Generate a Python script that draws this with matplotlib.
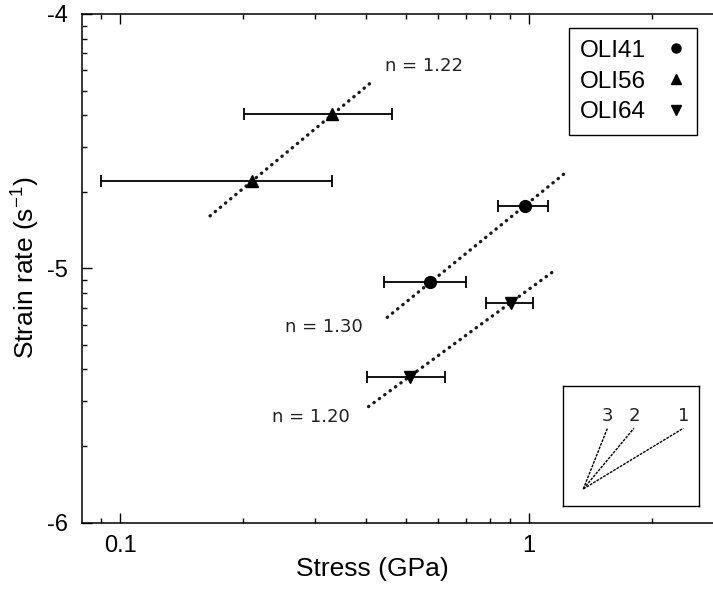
import numpy as np
import matplotlib
matplotlib.use("Agg")
import matplotlib.pyplot as plt
from matplotlib.ticker import LogLocator, FuncFormatter, NullFormatter
from matplotlib.lines import Line2D

# data (stress in GPa, log10 strain rate)
samples = ["OLI41", "OLI56", "OLI64"]
markers = ["o", "^", "v"]

stress41 = [0.573, 0.978]
lograte41 = [-5.055, -4.754]
lo41 = [0.442, 0.837]
hi41 = [0.702, 1.115]

stress56 = [0.210, 0.330]
lograte56 = [-4.656, -4.393]
lo56 = [0.090, 0.201]
hi56 = [0.330, 0.462]

stress64 = [0.512, 0.902]
lograte64 = [-5.429, -5.138]
lo64 = [0.401, 0.785]
hi64 = [0.621, 1.021]

# fitted lines (end points)
fit41_x = [0.450, 1.236]
fit41_y = [-5.193, -4.620]
fit56_x = [0.166, 0.416]
fit56_y = [-4.794, -4.262]
fit64_x = [0.405, 1.158]
fit64_y = [-5.544, -5.007]
n_labels = ["n = 1.30", "n = 1.22", "n = 1.20"]

# slope guide in the little box (box coordinates)
guide_labels = ["3", "2", "1"]
guide_x_end = [0.328, 0.523, 0.885]
guide_y_end = [0.647, 0.647, 0.647]
guide_origin = (0.151, 0.140)

plt.rcParams['font.family'] = ['Liberation Sans', 'DejaVu Sans']

fig = plt.figure(figsize=(7.13, 5.92), dpi=100)
ax = fig.add_axes([81.7 / 713, 69.5 / 592, 632.3 / 713, 508.5 / 592])

groups = [(stress41, lograte41, lo41, hi41), (stress56, lograte56, lo56, hi56),
          (stress64, lograte64, lo64, hi64)]
for (x, ly, lo, hi), m in zip(groups, markers):
    x = np.array(x)
    y = 10 ** np.array(ly)
    xerr = [x - np.array(lo), np.array(hi) - x]
    ax.errorbar(x, y, xerr=xerr, fmt=m, color='black', ms=8.5 if m == 'o' else 8,
                elinewidth=1.3, capsize=4.5, capthick=1.3, zorder=3)

for fx, fy in [(fit41_x, fit41_y), (fit56_x, fit56_y), (fit64_x, fit64_y)]:
    ax.plot(fx, 10 ** np.array(fy), color='#1a1a1a', lw=2.4,
            linestyle=(0, (0.1, 1.9)), dash_capstyle='round', zorder=2)

ax.text(0.253, 10 ** -5.23, n_labels[0], fontsize=13, family='DejaVu Sans',
        color='#222222', va='center', ha='left')
ax.text(0.445, 10 ** -4.205, n_labels[1], fontsize=13, family='DejaVu Sans',
        color='#222222', va='center', ha='left')
ax.text(0.235, 10 ** -5.584, n_labels[2], fontsize=13, family='DejaVu Sans',
        color='#222222', va='center', ha='left')

ax.set_xscale('log')
ax.set_yscale('log')
ax.set_xlim(0.0806, 2.83)
ax.set_ylim(1e-6, 1e-4)

ax.xaxis.set_major_locator(LogLocator(base=10, numticks=10))
ax.xaxis.set_minor_locator(LogLocator(base=10, subs=np.arange(2, 10), numticks=10))
ax.yaxis.set_major_locator(LogLocator(base=10, numticks=10))
ax.yaxis.set_minor_locator(LogLocator(base=10, subs=np.arange(2, 10), numticks=10))
ax.xaxis.set_major_formatter(FuncFormatter(lambda v, p: f"{v:g}"))
ax.yaxis.set_major_formatter(FuncFormatter(lambda v, p: f"{int(round(np.log10(v)))}"))
ax.xaxis.set_minor_formatter(NullFormatter())
ax.yaxis.set_minor_formatter(NullFormatter())

ax.tick_params(which='both', direction='in', top=True, right=False, width=1)
ax.tick_params(which='major', length=7.5, labelsize=17)
ax.tick_params(which='minor', length=3.5)
ax.tick_params(axis='x', pad=9)
ax.tick_params(axis='y', pad=10)
for s in ax.spines.values():
    s.set_linewidth(1.1)

ax.set_xlabel('Stress (GPa)', fontsize=19)
ax.set_ylabel('Strain rate (s$^{\\mathregular{-1}}$)', fontsize=19)
ax.xaxis.set_label_coords(0.46, -0.068)
ax.yaxis.set_label_coords(-0.064, 0.5)

handles = [Line2D([], [], marker=m, color='black', linestyle='none', markersize=6.5)
           for m in markers]
leg = ax.legend(handles, samples, loc='upper right', bbox_to_anchor=(0.973, 0.972),
                borderaxespad=0, markerfirst=False, fontsize=17.5, handlelength=0.8,
                handletextpad=0.8, borderpad=0.48, labelspacing=0.36, fancybox=False,
                framealpha=1, edgecolor='black')
leg.get_frame().set_linewidth(1.0)

# slope guide box
ins = ax.inset_axes([0.7607, 0.033, 0.2156, 0.2354])
ins.set_xlim(0, 1)
ins.set_ylim(0, 1)
ins.set_xticks([])
ins.set_yticks([])
for s in ins.spines.values():
    s.set_linewidth(1.0)
for lab, xe, ye in zip(guide_labels, guide_x_end, guide_y_end):
    ins.plot([guide_origin[0], xe], [guide_origin[1], ye], color='black',
             lw=1.0, linestyle=(0, (2, 0.8)))
    ins.text(xe, ye + 0.03, lab, ha='center', va='bottom', fontsize=13,
             family='DejaVu Sans', color='#222222')

fig.savefig('out.png', dpi=100)
